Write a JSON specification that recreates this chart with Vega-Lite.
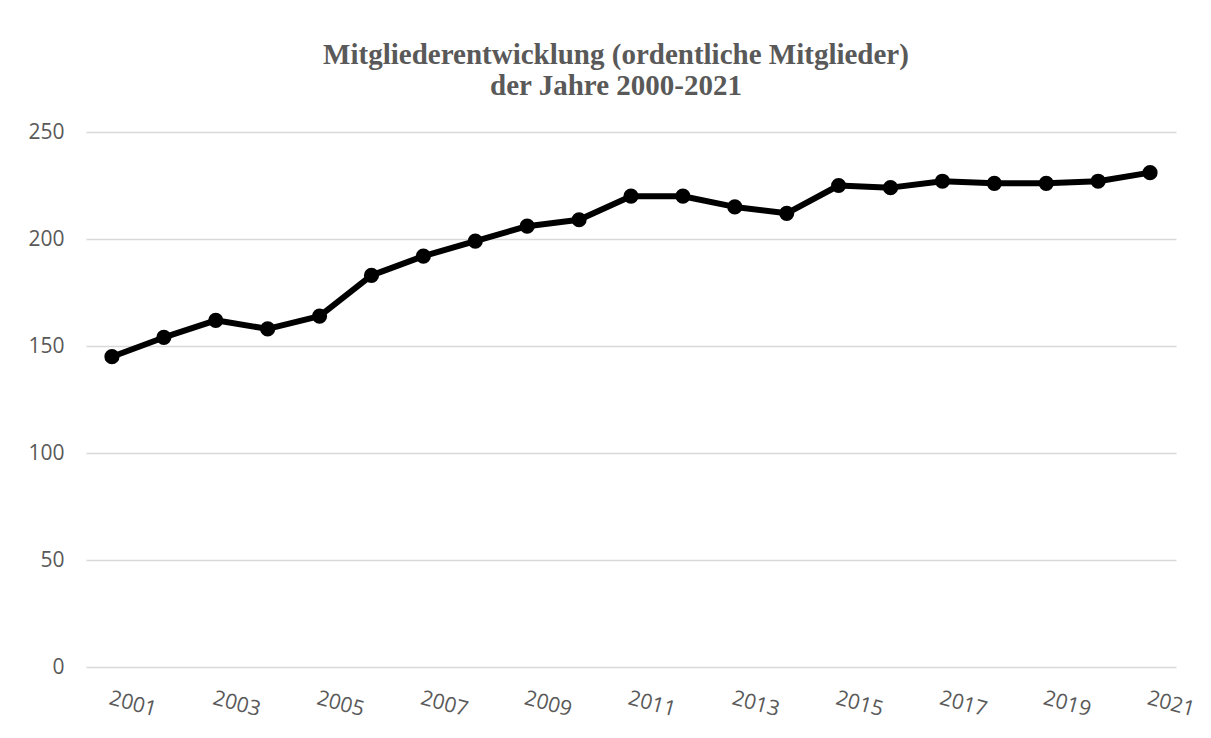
{
  "$schema": "https://vega.github.io/schema/vega-lite/v6.json",
  "width": 1090,
  "height": 535,
  "autosize": "none",
  "padding": {"left": 86, "top": 132, "right": 35, "bottom": 71},
  "background": "white",
  "title": {
    "text": ["Mitgliederentwicklung (ordentliche Mitglieder)", "der Jahre 2000-2021"],
    "font": "Liberation Serif",
    "fontWeight": "bold",
    "fontSize": 29,
    "lineHeight": 31,
    "color": "#595959",
    "anchor": "middle",
    "offset": 20,
    "dx": -15
  },
  "data": {
    "values": [
      {"Jahr": 2001, "Mitglieder": 145},
      {"Jahr": 2002, "Mitglieder": 154},
      {"Jahr": 2003, "Mitglieder": 162},
      {"Jahr": 2004, "Mitglieder": 158},
      {"Jahr": 2005, "Mitglieder": 164},
      {"Jahr": 2006, "Mitglieder": 183},
      {"Jahr": 2007, "Mitglieder": 192},
      {"Jahr": 2008, "Mitglieder": 199},
      {"Jahr": 2009, "Mitglieder": 206},
      {"Jahr": 2010, "Mitglieder": 209},
      {"Jahr": 2011, "Mitglieder": 220},
      {"Jahr": 2012, "Mitglieder": 220},
      {"Jahr": 2013, "Mitglieder": 215},
      {"Jahr": 2014, "Mitglieder": 212},
      {"Jahr": 2015, "Mitglieder": 225},
      {"Jahr": 2016, "Mitglieder": 224},
      {"Jahr": 2017, "Mitglieder": 227},
      {"Jahr": 2018, "Mitglieder": 226},
      {"Jahr": 2019, "Mitglieder": 226},
      {"Jahr": 2020, "Mitglieder": 227},
      {"Jahr": 2021, "Mitglieder": 231}
    ]
  },
  "encoding": {
    "x": {
      "field": "Jahr",
      "type": "ordinal",
      "axis": {
        "title": null,
        "values": [2001, 2003, 2005, 2007, 2009, 2011, 2013, 2015, 2017, 2019, 2021],
        "labelAngle": 15,
        "labelAlign": "left",
        "labelBaseline": "top",
        "labelPadding": 20,
        "labelFont": "Open Sans",
        "labelFontSize": 21,
        "labelColor": "#595959",
        "ticks": false,
        "domain": false,
        "grid": false
      }
    },
    "y": {
      "field": "Mitglieder",
      "type": "quantitative",
      "scale": {"domain": [0, 250], "nice": false},
      "axis": {
        "title": null,
        "values": [0, 50, 100, 150, 200, 250],
        "labelPadding": 22,
        "labelFont": "Open Sans",
        "labelFontSize": 21,
        "labelColor": "#595959",
        "ticks": false,
        "domain": false,
        "grid": true,
        "gridColor": "#d9d9d9",
        "gridWidth": 1.5
      }
    }
  },
  "layer": [
    {"mark": {"type": "line", "color": "black", "strokeWidth": 6, "strokeCap": "round", "strokeJoin": "round"}},
    {"mark": {"type": "point", "filled": true, "color": "black", "opacity": 1, "size": 230, "shape": "circle"}}
  ],
  "config": {"view": {"stroke": null}}
}
